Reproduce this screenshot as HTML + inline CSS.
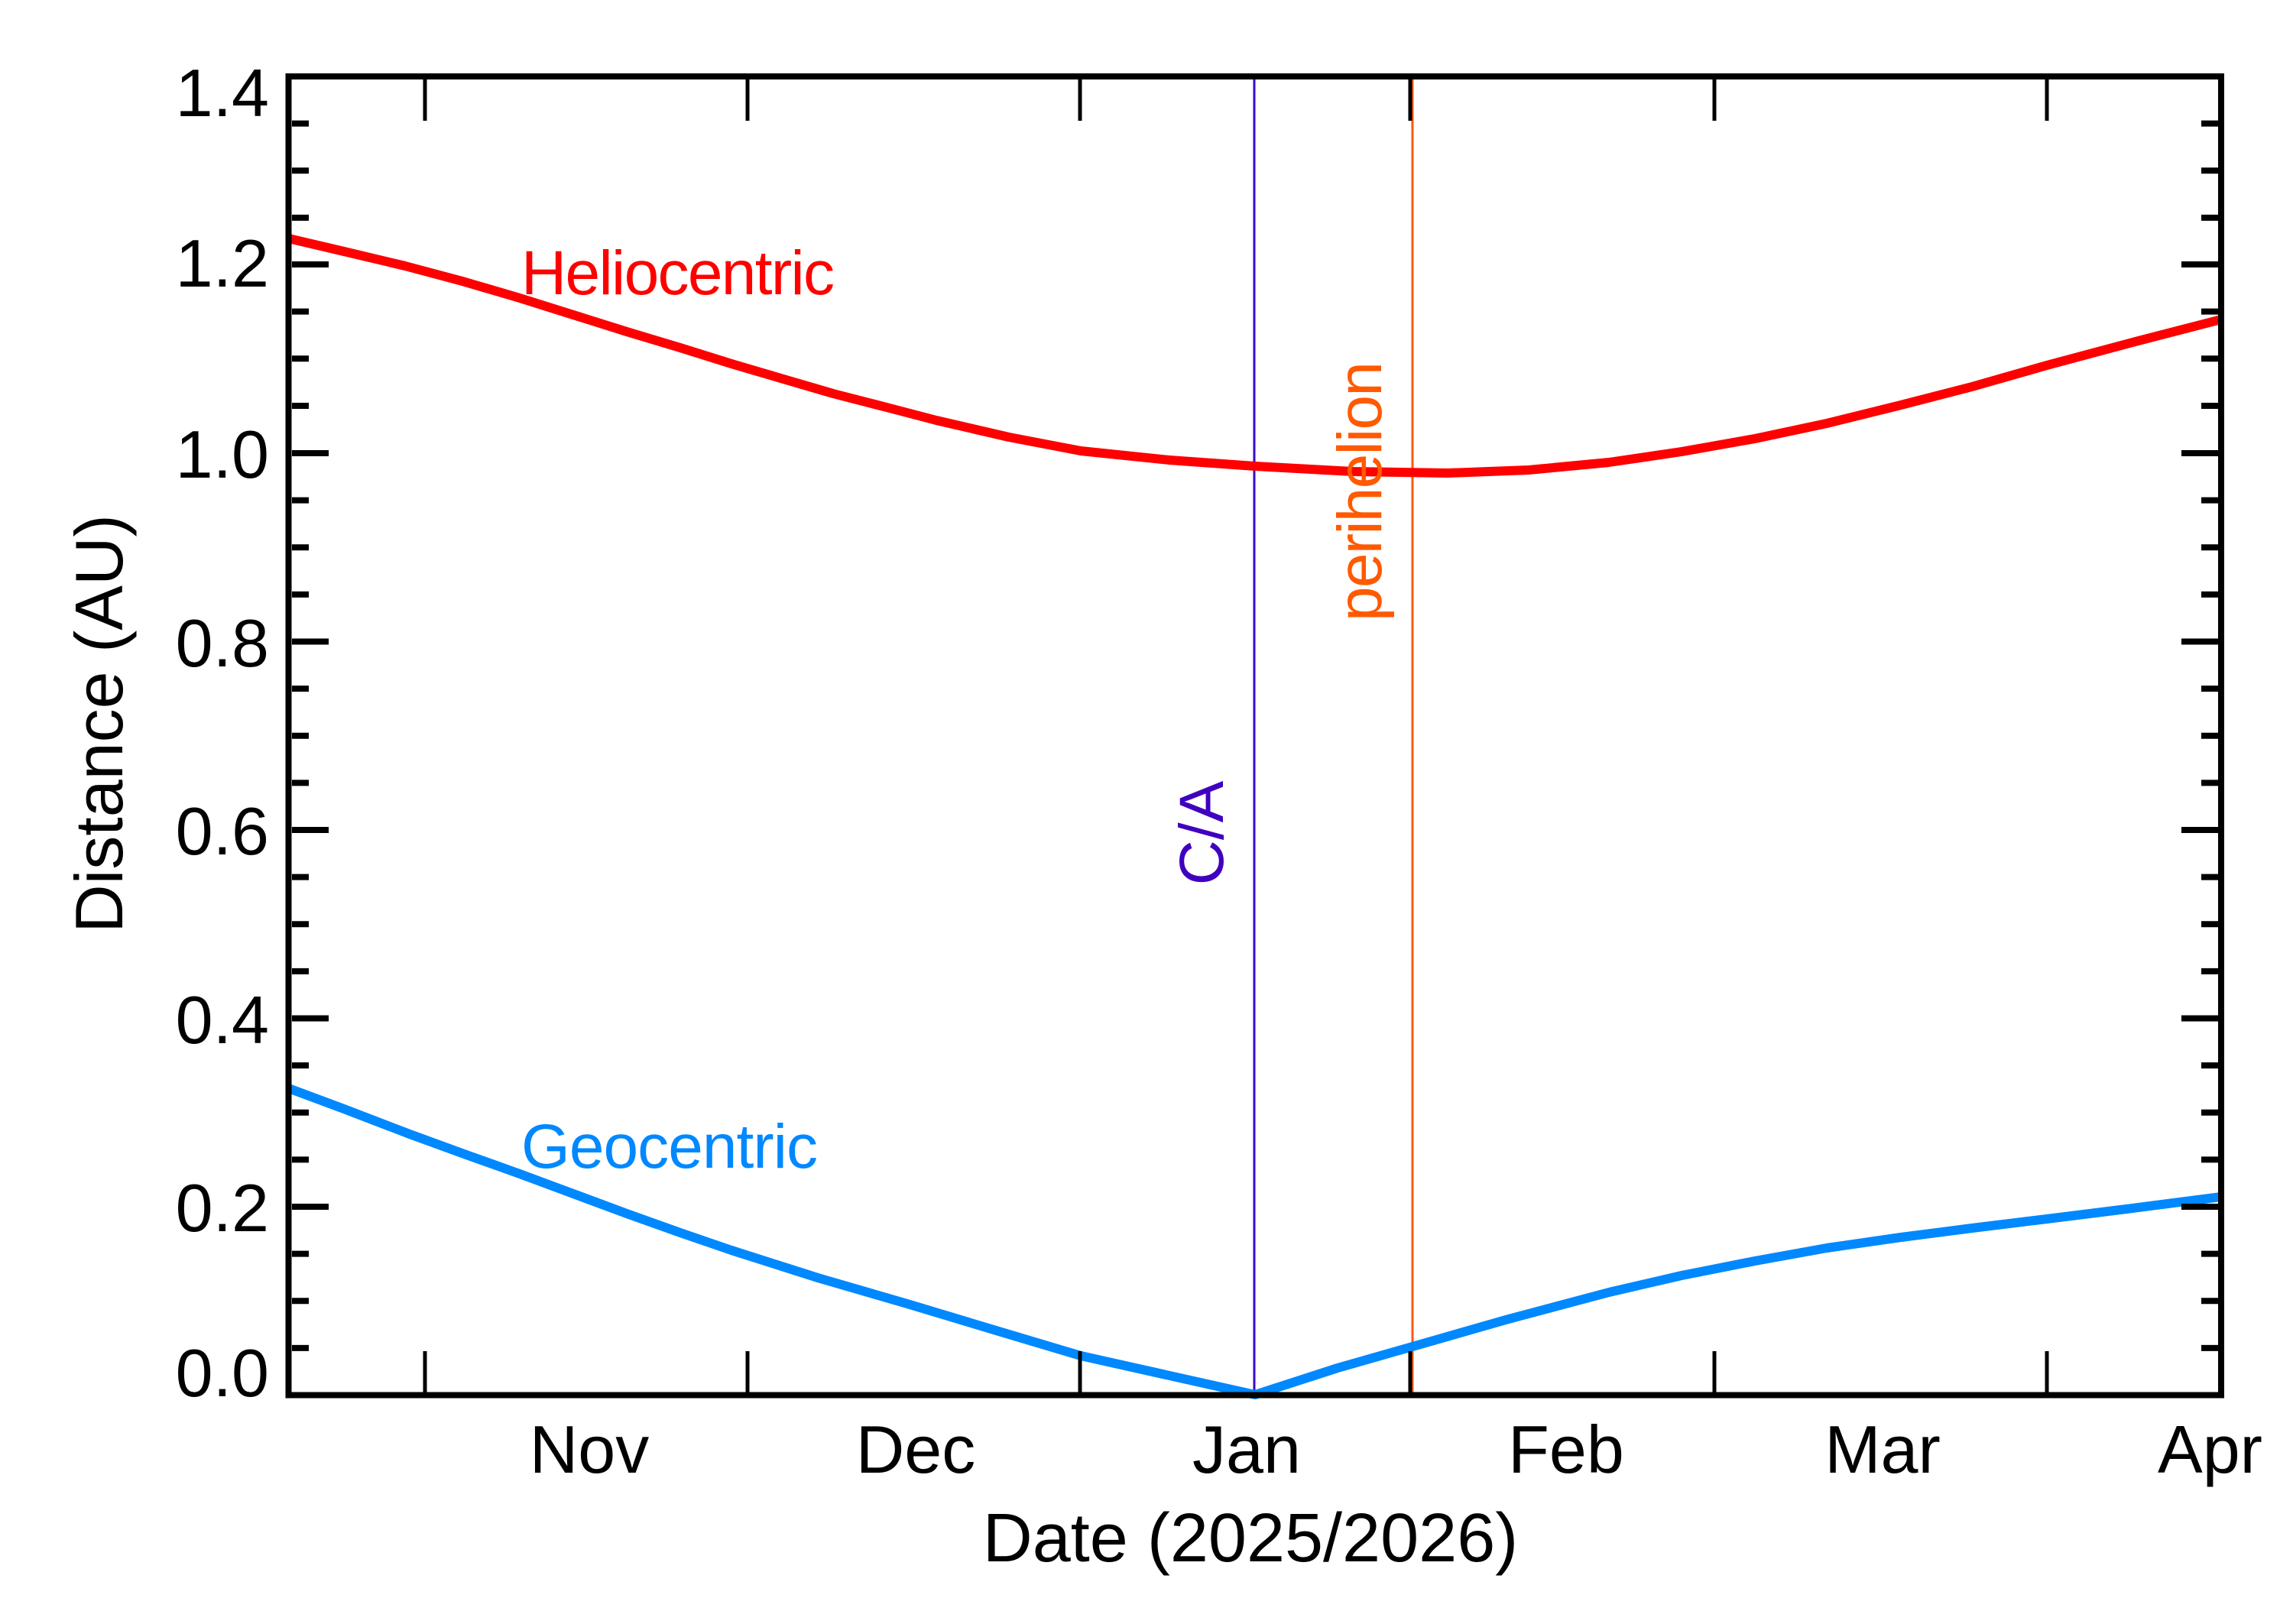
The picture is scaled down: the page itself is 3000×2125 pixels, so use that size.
<!DOCTYPE html>
<html><head><meta charset="utf-8"><style>html,body{margin:0;padding:0;background:#fff}svg{display:block}</style></head>
<body>
<svg width="3000" height="2125" viewBox="0 0 3000 2125" xmlns="http://www.w3.org/2000/svg" font-family="Liberation Sans, sans-serif">
<rect width="3000" height="2125" fill="#fff"/>
<line x1="1641" y1="100" x2="1641" y2="1825" stroke="#4000D0" stroke-width="3"/>
<line x1="1848" y1="100" x2="1848" y2="1825" stroke="#FF5A00" stroke-width="3"/>
<polyline fill="none" stroke="#FF0000" stroke-width="12" stroke-linejoin="round" points="377.5,312 450,329 530,348 605,368 680,390 750,412 820,434 890,455 957,476 1025,496 1090,515 1160,533 1225,550 1320,572 1414,590 1530,602 1642,610 1770,617 1894,619 2000,615 2105,605 2200,591 2296,574 2390,554 2487,530 2580,506 2678,478 2790,448 2906,418"/>
<polyline fill="none" stroke="#0088FF" stroke-width="12" stroke-linejoin="round" points="377.5,1424 450,1451 536,1484 610,1511 680,1536 750,1562 820,1588 890,1613 957,1636 1070,1672 1187,1706 1300,1740 1414,1774 1642,1825 1750,1790 1848,1762 1970,1727 2105,1691 2200,1669 2296,1650 2390,1633 2487,1619 2580,1607 2678,1595 2790,1581 2906,1566"/>
<rect x="377.5" y="100" width="2528.5" height="1725.5" fill="none" stroke="#000" stroke-width="8"/>
<g stroke="#000" stroke-width="5">
<path d="M556 1822V1768M978 1822V1768M1413 1822V1768M1845 1822V1768M2243 1822V1768M2678 1822V1768M556 104V158M978 104V158M1413 104V158M1845 104V158M2243 104V158M2678 104V158"/>
</g>
<g stroke="#000" stroke-width="8">
<path d="M382 346H430M382 593H430M382 839.5H430M382 1086H430M382 1332.5H430M382 1579H430M2902 346H2854M2902 593H2854M2902 839.5H2854M2902 1086H2854M2902 1332.5H2854M2902 1579H2854"/>
<path d="M382 161.6H404M382 223.2H404M382 284.9H404M382 407.6H404M382 469.3H404M382 531H404M382 654.6H404M382 716.2H404M382 777.9H404M382 901.1H404M382 962.8H404M382 1024.4H404M382 1147.6H404M382 1209.3H404M382 1270.9H404M382 1394.1H404M382 1455.8H404M382 1517.4H404M382 1640.6H404M382 1702.3H404M382 1763.9H404
M2902 161.6H2880M2902 223.2H2880M2902 284.9H2880M2902 407.6H2880M2902 469.3H2880M2902 531H2880M2902 654.6H2880M2902 716.2H2880M2902 777.9H2880M2902 901.1H2880M2902 962.8H2880M2902 1024.4H2880M2902 1147.6H2880M2902 1209.3H2880M2902 1270.9H2880M2902 1394.1H2880M2902 1455.8H2880M2902 1517.4H2880M2902 1640.6H2880M2902 1702.3H2880M2902 1763.9H2880"/>
</g>
<g font-size="88" text-anchor="end" fill="#000">
<text x="352" y="152">1.4</text>
<text x="352" y="375">1.2</text>
<text x="352" y="625">1.0</text>
<text x="352" y="872">0.8</text>
<text x="352" y="1118">0.6</text>
<text x="352" y="1365">0.4</text>
<text x="352" y="1611">0.2</text>
<text x="352" y="1827">0.0</text>
</g>
<g font-size="88" text-anchor="middle" fill="#000">
<text x="771" y="1927">Nov</text>
<text x="1198" y="1927">Dec</text>
<text x="1631" y="1927">Jan</text>
<text x="2049" y="1927">Feb</text>
<text x="2463" y="1927">Mar</text>
<text x="2823" y="1927" text-anchor="start">Apr</text>
<text x="1636" y="2043" font-size="90">Date (2025/2026)</text>
</g>
<text transform="translate(160,947) rotate(-90)" font-size="88" text-anchor="middle" fill="#000">Distance (AU)</text>
<text x="682" y="385" font-size="82" fill="#FF0000" textLength="410">Heliocentric</text>
<text x="682" y="1528" font-size="82" fill="#0088FF" textLength="388">Geocentric</text>
<text transform="translate(1600,1090) rotate(-90)" font-size="82" text-anchor="middle" fill="#4000C0">C/A</text>
<text transform="translate(1807,643) rotate(-90)" font-size="82" text-anchor="middle" fill="#FF5A00" textLength="340">perihelion</text>
</svg>
</body></html>
